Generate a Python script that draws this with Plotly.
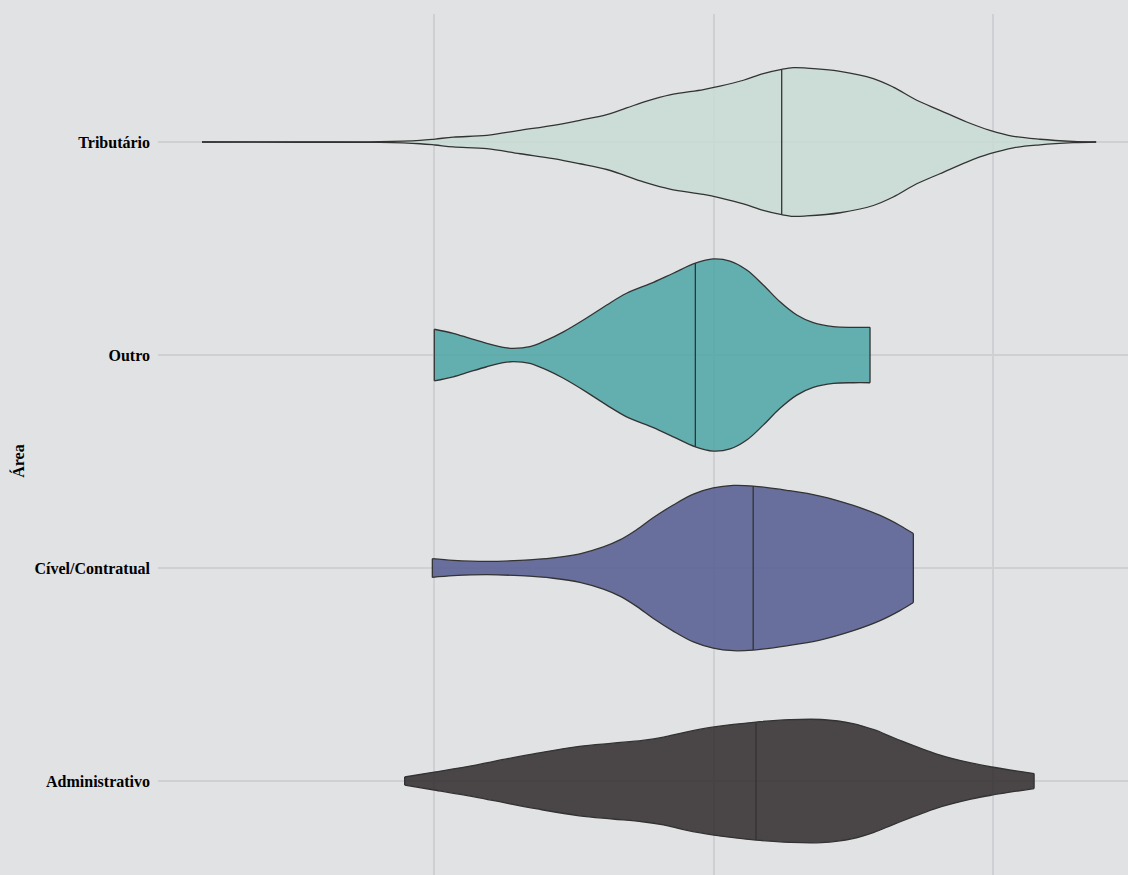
import numpy as np
import plotly.graph_objects as go

# Categories (bottom to top)
categories = ["Administrativo", "Cível/Contratual", "Outro", "Tributário"]
axis_title = "Área"

# Density profiles: value positions and half-widths (category units)
admin_x = [8.95, 10.01, 11.44, 12.64, 13.70, 15.20, 16.40, 17.46, 18.21, 18.97, 20.02,
           21.52, 22.73, 23.86, 24.99, 25.74, 26.49, 27.99, 29.21, 29.96, 31.47]
admin_w = [0.019, 0.042, 0.074, 0.105, 0.131, 0.163, 0.178, 0.191, 0.206, 0.229, 0.254,
           0.277, 0.288, 0.289, 0.270, 0.241, 0.201, 0.127, 0.085, 0.066, 0.035]
admin_median = 21.52

civel_x = [9.94, 10.69, 11.89, 13.08, 14.27, 15.22, 16.06, 16.65, 17.25, 17.85, 18.56,
           19.28, 19.99, 20.71, 21.42, 22.62, 23.81, 25.00, 25.96, 26.67, 27.15]
civel_w = [0.044, 0.036, 0.031, 0.036, 0.048, 0.067, 0.099, 0.132, 0.180, 0.237, 0.296,
           0.347, 0.376, 0.388, 0.385, 0.365, 0.338, 0.294, 0.247, 0.200, 0.162]
civel_median = 21.42

outro_x = [10.01, 10.69, 11.29, 11.89, 12.48, 12.84, 13.43, 14.03, 14.63, 15.46, 16.18,
           16.89, 17.85, 18.56, 19.35, 19.99, 20.59, 21.19, 21.78, 22.38, 22.98, 23.57,
           24.29, 25.00, 25.60]
outro_w = [0.121, 0.102, 0.078, 0.055, 0.036, 0.031, 0.039, 0.070, 0.109, 0.174, 0.235,
           0.290, 0.341, 0.384, 0.431, 0.451, 0.441, 0.399, 0.329, 0.250, 0.188, 0.152,
           0.133, 0.130, 0.130]
outro_median = 19.35

trib_x = [1.70, 5.21, 8.07, 9.50, 10.04, 10.69, 11.89, 13.08, 14.27, 15.22, 16.18, 16.89,
          17.61, 18.44, 19.64, 20.23, 21.07, 21.78, 22.44, 22.86, 23.33, 24.53, 25.72,
          26.43, 27.27, 28.10, 29.06, 29.89, 30.73, 31.68, 32.87, 33.69]
trib_w = [0.000, 0.001, 0.002, 0.008, 0.014, 0.023, 0.031, 0.055, 0.078, 0.102, 0.129,
          0.160, 0.192, 0.221, 0.246, 0.262, 0.290, 0.321, 0.341, 0.349, 0.347, 0.332,
          0.298, 0.258, 0.196, 0.149, 0.094, 0.055, 0.027, 0.013, 0.003, 0.000]
trib_median = 22.44

fills = ["rgba(47,41,42,0.85)", "rgba(83,91,145,0.85)",
         "rgba(76,164,165,0.85)", "rgba(200,219,212,0.85)"]
edge = "#333333"
bg = "#E1E2E4"
grid = "#CFD0D3"

series = [
    (admin_x, admin_w, admin_median),
    (civel_x, civel_w, civel_median),
    (outro_x, outro_w, outro_median),
    (trib_x, trib_w, trib_median),
]

fig = go.Figure()
for i, (xs, ws, med) in enumerate(series):
    xs = np.array(xs)
    ws = np.array(ws)
    line = dict(color=edge, width=1.3, shape="spline", smoothing=1.0)
    fig.add_trace(go.Scatter(x=xs, y=i - ws, mode="lines", line=line,
                             hoverinfo="skip", showlegend=False))
    fig.add_trace(go.Scatter(x=xs, y=i + ws, mode="lines", line=line, fill="tonexty",
                             fillcolor=fills[i], name=categories[i], showlegend=False))
    fig.add_trace(go.Scatter(x=[xs[0], xs[0], None, xs[-1], xs[-1]],
                             y=[i - ws[0], i + ws[0], None, i - ws[-1], i + ws[-1]],
                             mode="lines", line=dict(color=edge, width=1.3),
                             hoverinfo="skip", showlegend=False))
    hm = float(np.interp(med, xs, ws))
    fig.add_trace(go.Scatter(x=[med, med], y=[i - hm, i + hm], mode="lines",
                             line=dict(color=edge, width=1.3),
                             hoverinfo="skip", showlegend=False))

fig.update_layout(
    width=1128, height=875,
    margin=dict(l=158, r=0, t=14, b=0),
    paper_bgcolor=bg, plot_bgcolor=bg,
    font=dict(family="Liberation Serif, Times New Roman, serif", color="#000000", size=16),
    showlegend=False,
)
fig.update_xaxes(range=[0.125, 34.83], tickvals=[10, 20, 30], showticklabels=False,
                 showgrid=True, gridcolor=grid, gridwidth=1.5, zeroline=False, showline=False)
fig.update_yaxes(range=[-0.441, 3.601], tickvals=[0, 1, 2, 3], ticktext=categories,
                 showgrid=True, gridcolor=grid, gridwidth=1.5, zeroline=False, showline=False,
                 ticklabelstandoff=7,
                 tickfont=dict(size=16, weight="bold"))
fig.add_annotation(text=axis_title, xref="paper", yref="paper", x=-0.1443, y=0.48,
                   textangle=-90, showarrow=False, xanchor="center", yanchor="middle",
                   font=dict(size=16, weight="bold", color="#000000"))

fig.write_html("out.html",
               config={"displayModeBar": False},
               post_script="document.body.style.margin='0';"
                           "document.body.style.background='#E1E2E4';")
